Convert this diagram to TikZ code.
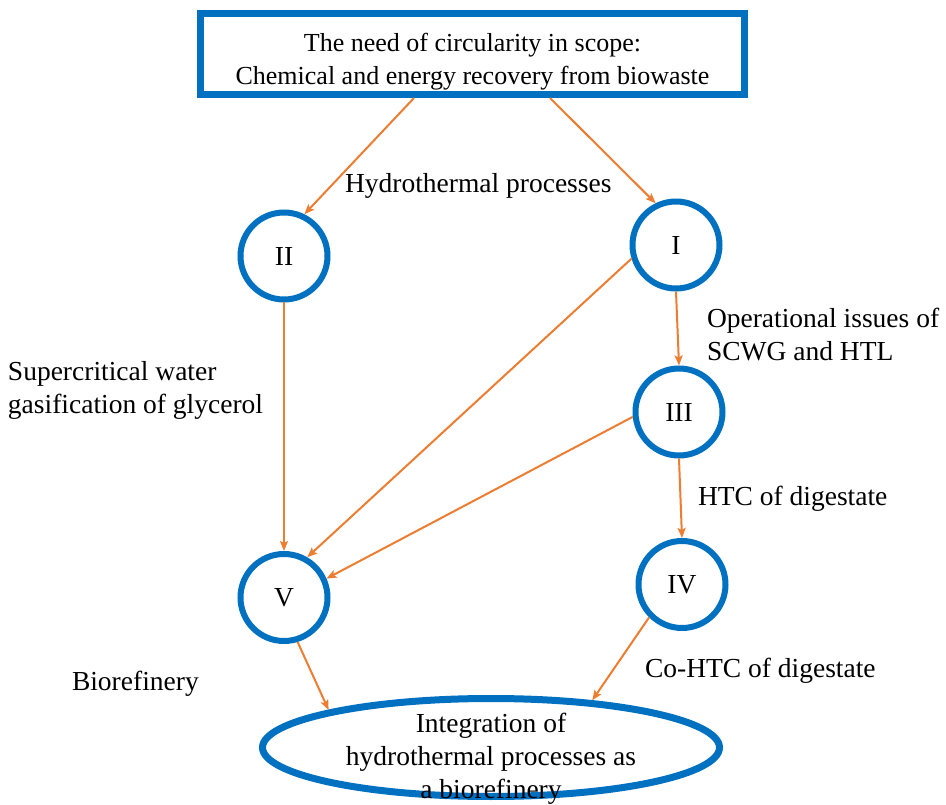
\documentclass[tikz,border=0pt]{standalone}
\usepackage{fontspec}
\setmainfont{Liberation Serif}
\usetikzlibrary{arrows.meta,shapes.geometric}
\definecolor{ringblue}{RGB}{0,112,192}
\definecolor{linkorange}{RGB}{237,125,49}

\begin{document}
\begin{tikzpicture}[x=1pt,y=-1pt,
  txt/.style={font=\fontsize{27.5}{33}\selectfont, inner sep=0pt, outer sep=0pt, text=black},
  headtxt/.style={font=\fontsize{26}{33}\selectfont, inner sep=0pt, outer sep=0pt,
    text=black, align=center},
  headbox/.style={rectangle, draw=ringblue, line width=7pt, minimum width=544pt,
    minimum height=81pt, inner sep=0pt},
  stage/.style={circle, draw=ringblue, line width=6pt, minimum size=87pt, inner sep=0pt,
    font=\fontsize{27.5}{33}\selectfont},
  goal/.style={ellipse, draw=ringblue, line width=7pt, minimum width=457pt,
    minimum height=98pt, inner sep=0pt},
  link/.style={draw=linkorange, line width=2pt,
    -{Stealth[length=10pt, width=8pt, inset=2pt]}}
]
% canvas
\path[fill=white] (0,0) rectangle (946,803);

% header box and its two lines (anchored on the last baseline)
\node[headbox] (head) at (472.5,54) {};
\node[headtxt, anchor=base] (headtext) at (472.5,85)
  {The need of circularity in scope:\\Chemical and energy recovery from biowaste};

% process stages
\node[stage] (I)   at (676,245)   {I};
\node[stage] (II)  at (284,256)   {II};
\node[stage] (III) at (679,412)   {III};
\node[stage] (IV)  at (682,584.5) {IV};
\node[stage] (V)   at (284,597.5) {V};

% final goal
\node[goal] (bio) at (491,747.5) {};
\node[txt, align=center] (biotext) at (491,758.5)
  {Integration of\\hydrothermal processes as\\a biorefinery};

% connector labels (multi-line ones anchored on their last baseline)
\node[txt, anchor=base west] (lhydro) at (345,193) {Hydrothermal processes};
\node[txt, anchor=base west, align=left] (lissues) at (707,361)
  {Operational issues of\\SCWG and HTL};
\node[txt, anchor=base west, align=left] (lscwg) at (8,414)
  {Supercritical water\\gasification of glycerol};
\node[txt, anchor=base west] (lhtc) at (698,506) {HTC of digestate};
\node[txt, anchor=base west] (lbio) at (72,690) {Biorefinery};
\node[txt, anchor=base west] (lcohtc) at (645,677) {Co-HTC of digestate};

% connectors
\draw[link] ([xshift=-58.5pt]head.south) -- (II.64);
\draw[link] ([xshift=77.5pt]head.south) -- (I.116);
\draw[link] (II.south) -- (V.north);
\draw[link] (I.197) -- (V.60);
\draw[link] (I.south) -- (III.north);
\draw[link] (III.186) -- (V.24);
\draw[link] (III.south) -- (IV.north);
\draw[link] (V.287) -- (bio.167);
\draw[link] (IV.225) -- (bio.25);
\end{tikzpicture}
\end{document}
